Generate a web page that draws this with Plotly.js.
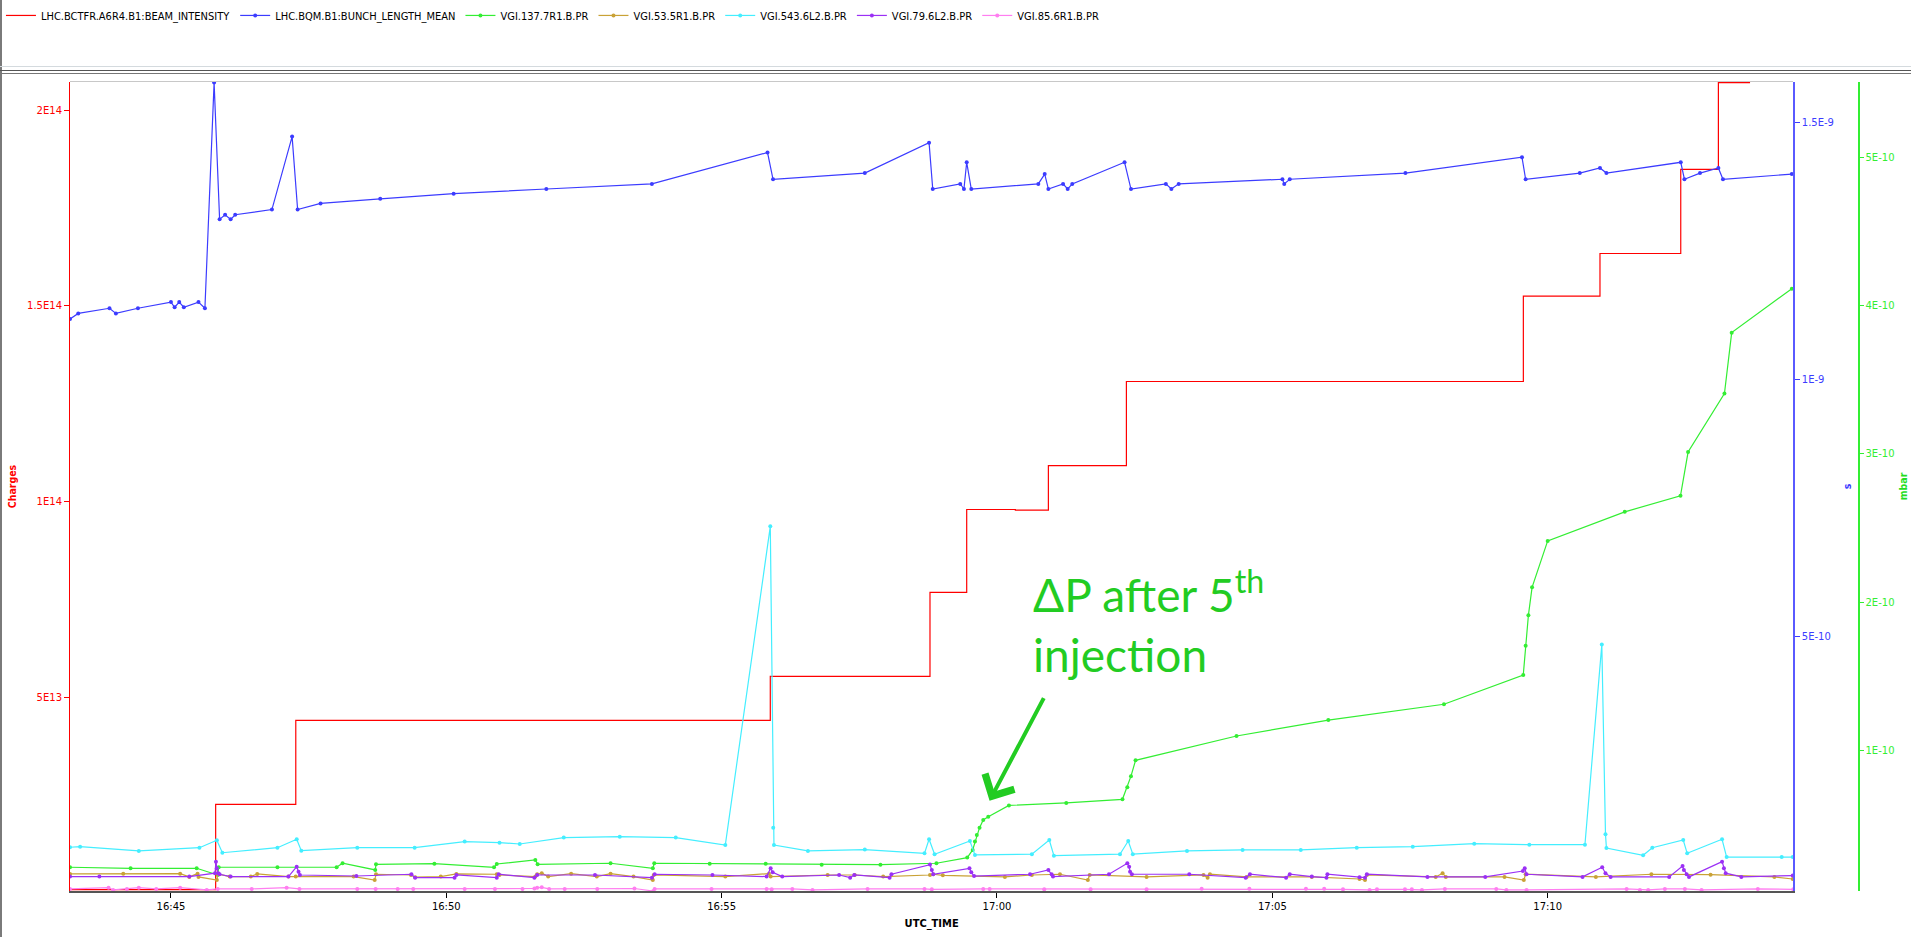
<!DOCTYPE html>
<html>
<head>
<meta charset="utf-8">
<script src="https://cdn.plot.ly/plotly-3.0.1.min.js"></script>
<style>
  html, body { margin: 0; padding: 0; background: #fff; overflow: hidden; }
  #chart { position: absolute; left: 0; top: 0; width: 1911px; height: 937px; }
  .rule { position: absolute; pointer-events: none; }
</style>
</head>
<body>
<div id="chart"></div>
<!-- window frame: legend panel and chart panel borders -->
<div class="rule" style="left:0;top:0;width:2px;height:937px;background:#7a7a7a"></div>
<div class="rule" style="left:0;top:66px;width:1911px;height:1px;background:#d4dade"></div>
<div class="rule" style="left:0;top:70px;width:1911px;height:1px;background:#555"></div>
<div class="rule" style="left:0;top:73px;width:1911px;height:1px;background:#777"></div>
<div class="rule" style="left:70px;top:81px;width:1723px;height:1px;background:#c8c8c8"></div>
<script>
// Acquisition day (only the clock time is displayed)
const DAY = '2018-06-14 ';

// LHC.BCTFR.A6R4.B1:BEAM_INTENSITY  [charges], step-wise
const intensityTime = ['16:43:10','16:45:48.7','16:47:16','16:55:53','16:58:47','16:59:27','17:00:20','17:00:56','17:02:21','17:09:33.5','17:10:57','17:12:25','17:13:06','17:13:40.5'];
const intensityVal  = [8e11, 2.256e13, 4.405e13, 5.527e13, 7.676e13, 9.792e13, 9.775e13, 1.0914e14, 1.3063e14, 1.5243e14, 1.6334e14, 1.8483e14, 2.070e14, 2.070e14];

// LHC.BQM.B1:BUNCH_LENGTH_MEAN  [s]
const bunchTime = ['16:43:10','16:43:19','16:43:53','16:44:00','16:44:24','16:45:00','16:45:04','16:45:09','16:45:14','16:45:30','16:45:37','16:45:47','16:45:53','16:45:59','16:46:05','16:46:10','16:46:50','16:47:12','16:47:18','16:47:43','16:48:48','16:50:08','16:51:49','16:53:44','16:55:50','16:55:56','16:57:36','16:58:46','16:58:50','16:59:20','16:59:24','16:59:27','16:59:32','17:00:45','17:00:52','17:00:56','17:01:12','17:01:17','17:01:22','17:02:19','17:02:26','17:03:04','17:03:10','17:03:18','17:05:11','17:05:13','17:05:19','17:07:25','17:09:32','17:09:36','17:10:35','17:10:57','17:11:04','17:12:25','17:12:29','17:12:46','17:13:06','17:13:11','17:14:26'];
const bunchVal  = [1.118e-9,1.129e-9,1.139e-9,1.129e-9,1.139e-9,1.151e-9,1.141e-9,1.151e-9,1.141e-9,1.151e-9,1.139e-9,1.578e-9,1.312e-9,1.321e-9,1.312e-9,1.321e-9,1.331e-9,1.473e-9,1.331e-9,1.343e-9,1.352e-9,1.362e-9,1.371e-9,1.381e-9,1.442e-9,1.390e-9,1.402e-9,1.461e-9,1.371e-9,1.381e-9,1.371e-9,1.423e-9,1.371e-9,1.381e-9,1.400e-9,1.371e-9,1.381e-9,1.371e-9,1.381e-9,1.423e-9,1.371e-9,1.381e-9,1.371e-9,1.381e-9,1.390e-9,1.381e-9,1.390e-9,1.402e-9,1.433e-9,1.390e-9,1.402e-9,1.412e-9,1.402e-9,1.423e-9,1.390e-9,1.402e-9,1.412e-9,1.390e-9,1.400e-9];

// VGI.137.7R1.B.PR  [mbar]
const g137Time = ['16:43:10','16:44:16','16:45:28','16:45:51','16:45:52','16:46:56','16:48:00.5','16:48:07','16:48:42.6','16:48:43.4','16:49:47','16:50:52','16:50:55','16:51:37','16:51:39.5','16:52:59','16:53:45','16:53:46.6','16:54:47','16:55:48','16:56:49','16:57:53','16:58:54','16:59:27.6','16:59:33.5','16:59:36','16:59:38','16:59:41','16:59:45','16:59:50.5','17:00:13','17:01:15.5','17:02:16.7','17:02:22','17:02:26','17:02:31','17:04:21','17:06:01','17:08:07','17:09:33.4','17:09:36','17:09:39','17:09:43','17:10:00','17:11:24','17:12:24.7','17:12:33','17:13:12.6','17:13:20.5','17:14:26'];
const g137Val  = [0.214e-10,0.207e-10,0.207e-10,0.162e-10,0.214e-10,0.214e-10,0.214e-10,0.241e-10,0.196e-10,0.234e-10,0.238e-10,0.214e-10,0.236e-10,0.263e-10,0.234e-10,0.241e-10,0.207e-10,0.241e-10,0.238e-10,0.238e-10,0.2315e-10,0.2315e-10,0.241e-10,0.279e-10,0.331e-10,0.387e-10,0.432e-10,0.481e-10,0.533e-10,0.555e-10,0.631e-10,0.6475e-10,0.672e-10,0.754e-10,0.828e-10,0.935e-10,1.099e-10,1.206e-10,1.313e-10,1.510e-10,1.707e-10,1.913e-10,2.101e-10,2.414e-10,2.610e-10,2.718e-10,3.013e-10,3.407e-10,3.818e-10,4.114e-10];

// VGI.53.5R1.B.PR  [mbar]
const g53Time = ['16:43:10','16:44:08','16:45:10','16:45:20','16:45:29','16:45:30','16:45:50','16:45:51','16:46:04','16:46:27','16:46:34','16:47:08','16:47:16','16:48:19','16:48:42','16:48:43.4','16:49:21.5','16:49:26','16:49:54','16:50:11','16:50:55','16:50:58','16:51:37','16:51:39','16:51:44','16:51:51','16:52:16','16:52:44','16:52:59','16:53:24','16:53:45','16:53:46','16:55:04','16:55:51.5','16:55:53.4','16:56:55.5','16:57:25','16:57:56','16:58:47','16:58:50.5','16:59:01','17:00:08.6','17:00:38','17:01:08.6','17:01:39','17:01:41','17:02:43','17:03:45','17:03:49.5','17:03:52','17:04:32','17:05:43','17:06:35','17:06:41','17:06:43','17:07:58','17:08:05.5','17:08:09','17:09:13','17:09:34','17:09:36','17:10:52.5','17:11:53','17:12:57.5','17:14:07','17:14:27'];
const g53Val  = [0.169e-10,0.171e-10,0.171e-10,0.149e-10,0.171e-10,0.149e-10,0.128e-10,0.169e-10,0.151e-10,0.151e-10,0.169e-10,0.151e-10,0.151e-10,0.151e-10,0.128e-10,0.167e-10,0.162e-10,0.147e-10,0.151e-10,0.169e-10,0.167e-10,0.162e-10,0.151e-10,0.167e-10,0.174e-10,0.151e-10,0.171e-10,0.151e-10,0.171e-10,0.151e-10,0.128e-10,0.162e-10,0.151e-10,0.171e-10,0.151e-10,0.162e-10,0.162e-10,0.151e-10,0.162e-10,0.167e-10,0.160e-10,0.149e-10,0.162e-10,0.167e-10,0.128e-10,0.162e-10,0.149e-10,0.162e-10,0.144e-10,0.167e-10,0.149e-10,0.149e-10,0.135e-10,0.128e-10,0.162e-10,0.149e-10,0.174e-10,0.149e-10,0.149e-10,0.128e-10,0.167e-10,0.149e-10,0.167e-10,0.164e-10,0.149e-10,0.135e-10];

// VGI.543.6L2.B.PR  [mbar]
const g543Time = ['16:43:10','16:43:21','16:44:25','16:45:31','16:45:50','16:45:56','16:46:56','16:47:17','16:47:22','16:48:23','16:49:25.5','16:50:20','16:50:58','16:51:20','16:52:08','16:53:09','16:54:10','16:55:04','16:55:53','16:55:56.2','16:55:57','16:56:34','16:57:36','16:58:41','16:58:46','16:58:52','16:59:30.5','16:59:36','17:00:38','17:00:57','17:01:02','17:02:14','17:02:23','17:02:28','17:03:27','17:04:27.6','17:05:31','17:06:32','17:07:33','17:08:40','17:09:40','17:10:40.6','17:10:59','17:11:03','17:11:04','17:11:44','17:11:54','17:12:27.7','17:12:32','17:13:10','17:13:15','17:14:15','17:14:27'];
const g543Val  = [0.349e-10,0.353e-10,0.324e-10,0.346e-10,0.396e-10,0.312e-10,0.346e-10,0.403e-10,0.326e-10,0.346e-10,0.346e-10,0.387e-10,0.380e-10,0.371e-10,0.414e-10,0.420e-10,0.414e-10,0.364e-10,2.512e-10,0.481e-10,0.364e-10,0.324e-10,0.333e-10,0.308e-10,0.403e-10,0.302e-10,0.391e-10,0.297e-10,0.302e-10,0.398e-10,0.292e-10,0.302e-10,0.391e-10,0.302e-10,0.324e-10,0.331e-10,0.331e-10,0.346e-10,0.353e-10,0.373e-10,0.366e-10,0.366e-10,1.715e-10,0.436e-10,0.344e-10,0.295e-10,0.346e-10,0.398e-10,0.308e-10,0.403e-10,0.283e-10,0.283e-10,0.283e-10];

// VGI.79.6L2.B.PR  [mbar]
const g79Time = ['16:43:10','16:43:42','16:45:20','16:45:48','16:45:49','16:45:50','16:45:51.5','16:45:53','16:46:05','16:47:08','16:47:17','16:47:19','16:47:20.5','16:48:22','16:49:22','16:49:26','16:50:09','16:50:11','16:50:55','16:50:57','16:51:36','16:51:39','16:52:42','16:53:44','16:53:47','16:54:50','16:55:49','16:55:53.4','16:55:55.6','16:56:06','16:57:08','16:57:20','16:57:24.5','16:58:03','16:58:05','16:58:47','16:58:49','16:58:50.5','16:59:30','16:59:32','16:59:35','17:00:36','17:00:56','17:00:59.5','17:01:01','17:02:02','17:02:22','17:02:24','17:02:25','17:02:27','17:03:29.5','17:04:31','17:04:35.6','17:05:15','17:05:19','17:05:43','17:05:59','17:06:00','17:06:35','17:06:41','17:06:43','17:07:49','17:08:52','17:09:33','17:09:35','17:09:37','17:10:38','17:10:59.4','17:11:03','17:11:08.6','17:12:12.4','17:12:27','17:12:28.4','17:12:31.4','17:12:34','17:13:10','17:13:12','17:13:14','17:13:31','17:14:27'];
const g79Val  = [0.151e-10,0.151e-10,0.151e-10,0.174e-10,0.252e-10,0.207e-10,0.174e-10,0.167e-10,0.151e-10,0.151e-10,0.218e-10,0.184e-10,0.162e-10,0.155e-10,0.167e-10,0.144e-10,0.144e-10,0.162e-10,0.144e-10,0.167e-10,0.144e-10,0.162e-10,0.162e-10,0.144e-10,0.167e-10,0.162e-10,0.151e-10,0.207e-10,0.180e-10,0.151e-10,0.162e-10,0.144e-10,0.162e-10,0.144e-10,0.167e-10,0.232e-10,0.196e-10,0.167e-10,0.207e-10,0.180e-10,0.155e-10,0.167e-10,0.196e-10,0.167e-10,0.151e-10,0.167e-10,0.241e-10,0.218e-10,0.184e-10,0.167e-10,0.167e-10,0.144e-10,0.167e-10,0.144e-10,0.167e-10,0.151e-10,0.144e-10,0.167e-10,0.147e-10,0.144e-10,0.167e-10,0.149e-10,0.149e-10,0.189e-10,0.207e-10,0.167e-10,0.149e-10,0.214e-10,0.174e-10,0.149e-10,0.149e-10,0.222e-10,0.196e-10,0.167e-10,0.149e-10,0.252e-10,0.207e-10,0.174e-10,0.149e-10,0.158e-10];

// VGI.85.6R1.B.PR  [mbar]
const g85Time = ['16:43:10','16:43:52','16:43:57','16:44:12','16:44:25','16:44:44','16:45:10','16:45:39','16:45:51','16:46:28','16:47:06','16:47:20','16:48:23','16:48:43','16:49:07','16:49:24','16:50:20','16:50:53','16:51:23','16:51:36','16:51:39','16:51:44','16:51:52','16:52:09','16:52:44.5','16:53:25','16:53:45.5','16:53:47','16:54:49','16:55:49','16:55:54.5','16:56:17','16:56:39','16:57:39','16:58:41','16:58:49','16:59:45','16:59:52','17:00:51.5','17:01:42','17:02:43','17:03:43','17:04:35','17:05:36.6','17:05:56.5','17:06:17','17:06:46','17:06:54','17:07:24.5','17:07:32','17:07:43','17:08:08','17:09:04','17:09:15','17:09:37','17:11:26','17:11:40.5','17:11:49.5','17:12:07.7','17:12:29.5','17:12:47.7','17:13:49','17:14:27.6'];
const g85Val  = [0.068e-10,0.0765e-10,0.061e-10,0.068e-10,0.0765e-10,0.068e-10,0.0765e-10,0.061e-10,0.068e-10,0.068e-10,0.0765e-10,0.068e-10,0.068e-10,0.068e-10,0.068e-10,0.068e-10,0.068e-10,0.068e-10,0.068e-10,0.071e-10,0.0765e-10,0.079e-10,0.068e-10,0.068e-10,0.068e-10,0.071e-10,0.054e-10,0.068e-10,0.068e-10,0.068e-10,0.065e-10,0.068e-10,0.061e-10,0.068e-10,0.068e-10,0.065e-10,0.068e-10,0.068e-10,0.065e-10,0.065e-10,0.065e-10,0.070e-10,0.070e-10,0.070e-10,0.070e-10,0.065e-10,0.061e-10,0.065e-10,0.065e-10,0.065e-10,0.061e-10,0.068e-10,0.068e-10,0.061e-10,0.061e-10,0.068e-10,0.061e-10,0.061e-10,0.068e-10,0.068e-10,0.061e-10,0.068e-10,0.065e-10];

// axis ticks
const chargeTicks  = [5e13, 1e14, 1.5e14, 2e14];
const chargeLabels = ['5E13', '1E14', '1.5E14', '2E14'];
const secTicks     = [5e-10, 1e-9, 1.5e-9];
const secLabels    = ['5E-10', '1E-9', '1.5E-9'];
const mbarTicks    = [1e-10, 2e-10, 3e-10, 4e-10, 5e-10];
const mbarLabels   = ['1E-10', '2E-10', '3E-10', '4E-10', '5E-10'];

const at = list => list.map(t => DAY + t);

function series(name, times, vals, color, axis) {
  return {
    type: 'scatter', mode: 'lines+markers', name: name,
    x: at(times), y: vals, yaxis: axis,
    line: { color: color, width: 1.2 },
    marker: { color: color, size: 4, symbol: 'circle' },
    hoverinfo: 'x+y+name'
  };
}

const traces = [
  {
    type: 'scatter', mode: 'lines', name: 'LHC.BCTFR.A6R4.B1:BEAM_INTENSITY',
    x: at(intensityTime), y: intensityVal, yaxis: 'y',
    line: { color: '#ff0000', width: 1.2, shape: 'hv' }
  },
  series('LHC.BQM.B1:BUNCH_LENGTH_MEAN', bunchTime, bunchVal, '#3c3cff', 'y2'),
  series('VGI.137.7R1.B.PR', g137Time, g137Val, '#33ee33', 'y3'),
  series('VGI.53.5R1.B.PR', g53Time, g53Val, '#c9a236', 'y3'),
  series('VGI.543.6L2.B.PR', g543Time, g543Val, '#44eeff', 'y3'),
  series('VGI.79.6L2.B.PR', g79Time, g79Val, '#9b30f5', 'y3'),
  series('VGI.85.6R1.B.PR', g85Time, g85Val, '#ff7ef0', 'y3')
];

const tickFont = { family: 'DejaVu Sans, sans-serif', size: 10 };
const titleFont = { family: 'DejaVu Sans Condensed, DejaVu Sans, sans-serif', size: 10.5 };

const layout = {
  width: 1911, height: 937,
  margin: { l: 70, r: 53, t: 82, b: 46, pad: 0 },
  paper_bgcolor: 'rgba(0,0,0,0)',
  plot_bgcolor: '#ffffff',
  showlegend: true,
  legend: {
    orientation: 'h', xref: 'container', yref: 'container',
    x: 0.0005, y: 0.999, xanchor: 'left', yanchor: 'top',
    font: { family: 'DejaVu Sans Condensed, DejaVu Sans, sans-serif', size: 11, color: '#000' },
    bgcolor: 'rgba(0,0,0,0)', itemwidth: 30, tracegroupgap: 0
  },
  xaxis: {
    type: 'date', domain: [0, 0.9638],
    range: [DAY + '16:43:10', DAY + '17:14:27.6'],
    tick0: DAY + '16:45:00', dtick: 300000, tickformat: '%H:%M',
    ticks: 'outside', ticklen: 5, tickcolor: '#000', tickwidth: 1,
    showgrid: false, zeroline: false,
    showline: true, linecolor: '#555', linewidth: 1.5,
    tickfont: Object.assign({ color: '#000' }, tickFont),
    title: { text: '<b>UTC_TIME</b>', standoff: 9, font: Object.assign({}, titleFont, { size: 11, color: '#000' }) }
  },
  yaxis: {
    range: [4.3e11, 2.0716e14],
    tickmode: 'array', tickvals: chargeTicks, ticktext: chargeLabels,
    ticks: 'outside', ticklen: 5, tickcolor: '#ff0000',
    showgrid: false, zeroline: false,
    showline: true, linecolor: '#ff0000', linewidth: 1,
    tickfont: Object.assign({ color: '#ff0000' }, tickFont),
    title: { text: '<b>Charges</b>', standoff: 8, font: Object.assign({}, titleFont, { color: '#ff0000' }) }
  },
  yaxis2: {
    overlaying: 'y', side: 'right', anchor: 'x',
    range: [5.3e-12, 1.5792e-9],
    tickmode: 'array', tickvals: secTicks, ticktext: secLabels,
    ticks: 'outside', ticklen: 5, tickcolor: '#3c3cff',
    showgrid: false, zeroline: false,
    showline: true, linecolor: '#5a5aff', linewidth: 1.5,
    tickfont: Object.assign({ color: '#3c3cff' }, tickFont),
    title: { text: '<b>s</b>', standoff: 10, font: Object.assign({}, titleFont, { color: '#3c3cff' }) }
  },
  yaxis3: {
    overlaying: 'y', side: 'right', anchor: 'free', position: 1,
    range: [5.4e-12, 5.5076e-10],
    tickmode: 'array', tickvals: mbarTicks, ticktext: mbarLabels,
    ticks: 'outside', ticklen: 4, tickcolor: '#33ee33',
    showgrid: false, zeroline: false,
    showline: true, linecolor: '#33ee33', linewidth: 1.5,
    tickfont: Object.assign({ color: '#33ee33' }, tickFont),
    title: { text: '<b>mbar</b>', standoff: 6, font: Object.assign({}, titleFont, { color: '#22dd22' }) }
  },
  annotations: [
    {
      xref: 'paper', yref: 'paper', x: 0.5375, y: 0.41,
      xanchor: 'left', yanchor: 'top', align: 'left', showarrow: false,
      text: '\u0394P after 5<sup>th</sup><br>injection',
      font: { family: 'Lato, Liberation Sans, sans-serif', size: 46, color: '#22cc22' }
    },
    {
      xref: 'paper', yref: 'paper', x: 0.5143, y: 0.1117,
      ax: 55, ay: -104, text: '', showarrow: true,
      arrowhead: 4, arrowsize: 1.6, arrowwidth: 4, arrowcolor: '#22cc22', standoff: 0
    }
  ]
};

Plotly.newPlot('chart', traces, layout, { displayModeBar: false, staticPlot: true });
</script>
</body>
</html>
